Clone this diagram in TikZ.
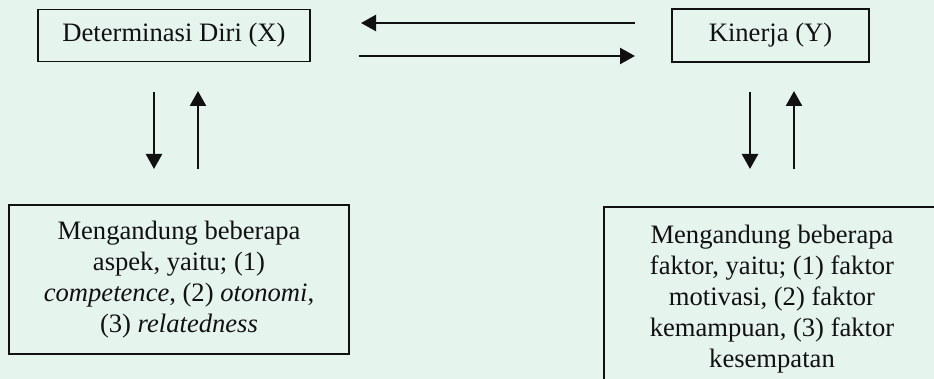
\documentclass[tikz,border=0pt]{standalone}
\usepackage{fontspec}
\setmainfont{Liberation Serif}
\usetikzlibrary{arrows.meta}
\definecolor{bgmint}{HTML}{E6F4EE}
\definecolor{ink}{HTML}{111111}
\tikzset{
  box/.style={draw=ink, line width=1.6pt, align=center, inner sep=0pt,
    font=\fontsize{26.6}{31}\selectfont, text=ink},
  link/.style={draw=ink, line width=2.4pt, -{Triangle[width=16pt,length=15pt]}}
}
\begin{document}
\begin{tikzpicture}[x=1pt,y=-1pt]
\fill[bgmint] (0,0) rectangle (934,379);
\useasboundingbox (0,0) rectangle (934,379);
\clip (0,0) rectangle (934,379);
\node[box, minimum width=272pt, minimum height=52pt] (x) at (174,35.5) {Determinasi Diri (X)};
\node[box, minimum width=197pt, minimum height=53pt] (y) at (770.5,35.5) {Kinerja (Y)};
\node[box, minimum width=340pt, minimum height=149pt] (a) at (179,279.5)
  {Mengandung beberapa\\ aspek, yaitu; (1)\\ \textit{competence}, (2) \textit{otonomi},\\ (3) \textit{relatedness}};
\node[box, minimum width=336pt, minimum height=184pt] (f) at (772,299)
  {Mengandung beberapa\\ faktor, yaitu; (1) faktor\\ motivasi, (2) faktor\\ kemampuan, (3) faktor\\ kesempatan};
% horizontal arrows
\coordinate (t1) at (635,23);
\coordinate (t2) at (361,23);
\coordinate (b1) at (359,56);
\coordinate (b2) at (635,56);
\draw[link] (t1) -- (t2);
\draw[link] (b1) -- (b2);
% left vertical arrows
\coordinate (ld1) at (154,92);
\coordinate (ld2) at (154,169);
\coordinate (lu1) at (198,169);
\coordinate (lu2) at (198,91);
\draw[link] (ld1) -- (ld2);
\draw[link] (lu1) -- (lu2);
% right vertical arrows
\coordinate (rd1) at (750,92);
\coordinate (rd2) at (750,169);
\coordinate (ru1) at (794,169);
\coordinate (ru2) at (794,91);
\draw[link] (rd1) -- (rd2);
\draw[link] (ru1) -- (ru2);
\end{tikzpicture}
\end{document}
